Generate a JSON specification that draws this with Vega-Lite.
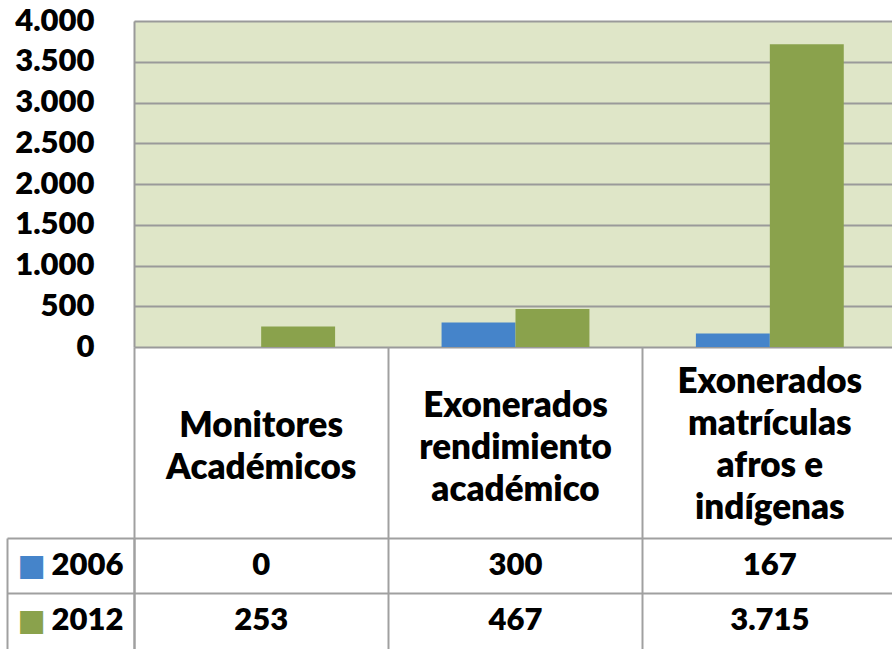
{
  "$schema": "https://vega.github.io/schema/vega-lite/v6.json",
  "padding": {"left": 6, "top": 5, "right": 0, "bottom": 0},
  "autosize": {"type": "pad"},
  "background": "white",
  "bounds": "flush",
  "spacing": 191,
  "config": {
    "font": "Lato",
    "locale": {"number": {"decimal": ",", "thousands": ".", "grouping": [3], "currency": ["$", ""]}},
    "view": {"stroke": null}
  },
  "datasets": {
    "d": [
      {"categoria": "Monitores Académicos", "anio": "2006", "valor": 0},
      {"categoria": "Monitores Académicos", "anio": "2012", "valor": 253},
      {"categoria": "Exonerados rendimiento académico", "anio": "2006", "valor": 300},
      {"categoria": "Exonerados rendimiento académico", "anio": "2012", "valor": 467},
      {"categoria": "Exonerados matrículas afros e indígenas", "anio": "2006", "valor": 167},
      {"categoria": "Exonerados matrículas afros e indígenas", "anio": "2012", "valor": 3715}
    ]
  },
  "vconcat": [
    {
      "width": 758,
      "height": 326,
      "view": {"fill": "#DFE6C8", "stroke": null},
      "data": {"name": "d"},
      "mark": {"type": "bar"},
      "encoding": {
        "x": {
          "field": "categoria", "type": "nominal",
          "sort": ["Monitores Académicos", "Exonerados rendimiento académico", "Exonerados matrículas afros e indígenas"],
          "scale": {"type": "band", "range": [0, 763], "paddingInner": 0, "paddingOuter": 0},
          "axis": {
            "title": null, "domain": false, "ticks": true, "bandPosition": 0,
            "tickSize": 191, "tickColor": "#A0A0A0", "tickWidth": 2,
            "labelExpr": "datum.value == 'Monitores Académicos' ? ['Monitores', 'Académicos'] : datum.value == 'Exonerados rendimiento académico' ? ['Exonerados', 'rendimiento', 'académico'] : ['Exonerados', 'matrículas', 'afros e', 'indígenas']",
            "labelFontSize": 35, "labelFontWeight": 800, "labelColor": "black",
            "labelPadding": {
              "condition": [
                {"test": "datum.value == 'Monitores Académicos'", "value": -113},
                {"test": "datum.value == 'Exonerados rendimiento académico'", "value": -133}
              ],
              "value": -157
            },
            "labelBaseline": "middle", "labelLineHeight": 42,
            "labelAngle": 0, "labelAlign": "center", "labelLimit": 0
          }
        },
        "xOffset": {"field": "anio", "type": "nominal", "sort": ["2006", "2012"], "scale": {"paddingInner": 0, "paddingOuter": 0.72}},
        "y": {
          "field": "valor", "type": "quantitative",
          "scale": {"domain": [0, 4000], "nice": false},
          "axis": {
            "title": null, "values": [0, 500, 1000, 1500, 2000, 2500, 3000, 3500, 4000],
            "format": ",d", "grid": true, "gridColor": "#9A9A9A", "gridWidth": 2,
            "domain": true, "domainColor": "#9A9A9A", "domainWidth": 2, "ticks": false,
            "labelFontSize": 31, "labelFontWeight": 800, "labelColor": "black", "labelPadding": 40
          }
        },
        "color": {
          "field": "anio", "type": "nominal",
          "scale": {"domain": ["2006", "2012"], "range": ["#4584CA", "#8AA24C"]},
          "legend": null
        }
      }
    },
    {
      "width": 758,
      "height": 111,
      "data": {"name": "d"},
      "resolve": {"axis": {"y": "independent"}},
      "layer": [
        {
          "mark": {"type": "text", "fontSize": 31, "fontWeight": 800, "color": "black"},
          "encoding": {
            "x": {
              "field": "categoria", "type": "nominal",
              "sort": ["Monitores Académicos", "Exonerados rendimiento académico", "Exonerados matrículas afros e indígenas"],
              "scale": {"type": "band", "range": [0, 763], "paddingInner": 0, "paddingOuter": 0},
              "axis": {"title": null, "labels": false, "ticks": false, "domain": false, "grid": true, "bandPosition": 0, "gridColor": "#A0A0A0", "gridWidth": 2}
            },
            "y": {
              "field": "anio", "type": "nominal", "sort": ["2006", "2012"],
              "scale": {"type": "band", "paddingInner": 0, "paddingOuter": 0},
              "axis": {
                "title": null, "domain": true, "domainColor": "#A0A0A0", "domainWidth": 2,
                "ticks": true, "bandPosition": 0, "tickSize": 127, "tickColor": "#A0A0A0", "tickWidth": 2,
                "grid": true, "gridColor": "#A0A0A0", "gridWidth": 2,
                "labelFontSize": 31, "labelFontWeight": 800, "labelColor": "black", "labelPadding": -116
              }
            },
            "text": {"field": "valor", "type": "quantitative", "format": ",d"}
          }
        },
        {
          "mark": {"type": "text", "text": "", "opacity": 0},
          "encoding": {
            "y": {
              "field": "anio", "type": "nominal", "sort": ["2006", "2012"],
              "axis": {
                "title": null, "orient": "left", "offset": 127,
                "domain": true, "domainColor": "#A0A0A0", "domainWidth": 2,
                "ticks": false, "grid": false,
                "labelExpr": "'■'", "labelFont": "DejaVu Sans", "labelFontSize": 30,
                "labelColor": {"condition": {"test": "datum.value == '2006'", "value": "#4584CA"}, "value": "#8AA24C"},
                "labelPadding": -38
              }
            }
          }
        }
      ]
    }
  ]
}
